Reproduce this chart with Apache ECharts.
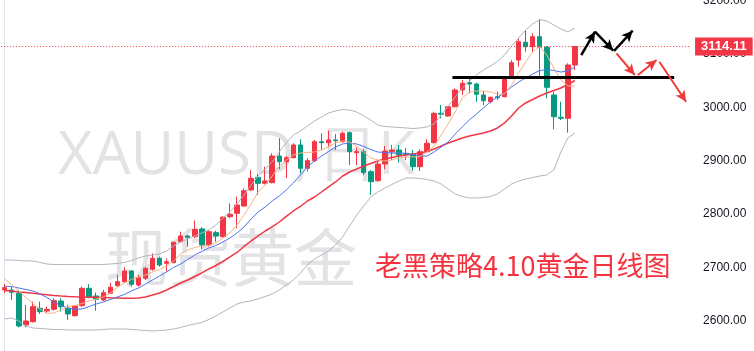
<!DOCTYPE html>
<html><head><meta charset="utf-8">
<script src="https://cdn.jsdelivr.net/npm/echarts@6/dist/echarts.min.js"></script>
<style>html,body{margin:0;padding:0;background:#fff}#c{width:754px;height:351px}</style>
</head><body><div id="c"></div>
<script>
// ---- data (XAUUSD daily) ----
const tradingDays = Array.from({length: 82}, (_, i) => 'D' + (i + 1));
const opens = [2657.3,2657.3,2651.1,2591.6,2597.8,2622.9,2617.9,2621.1,2636.6,2622.9,2609.1,2627.8,2660.4,2646.0,2638.5,2651.1,2665.3,2672.8,2692.9,2666.6,2679.2,2696.1,2716.7,2707.3,2708.5,2747.9,2758.6,2757.2,2771.7,2741.7,2764.8,2757.2,2794.8,2801.2,2814.8,2844.9,2868.7,2857.4,2858.6,2908.6,2897.9,2905.4,2929.3,2885.6,2899.8,2935.5,2933.6,2938.7,2935.5,2952.4,2914.8,2916.7,2879.2,2862.3,2893.6,2916.7,2919.9,2913.7,2912.4,2888.6,2916.7,2933.6,2988.7,2983.7,3001.1,3032.5,3046.2,3043.7,3023.1,3010.5,3019.9,3019.9,3057.4,3088.7,3121.9,3113.7,3132.5,3112.6,3023.1,2981.2,2979.4,3079.4];
const closes = [2661.6,2652.9,2589.7,2599.1,2625.9,2616.6,2621.1,2637.2,2625.9,2612.2,2627.3,2660.4,2643.6,2639.8,2652.2,2662.3,2672.8,2692.9,2667.9,2680.3,2697.9,2716.7,2704.2,2710.3,2746.8,2758.6,2756.1,2771.1,2741.7,2766.6,2758.6,2793.6,2799.3,2816.7,2843.5,2866.8,2857.4,2861.7,2908.6,2897.9,2905.4,2929.3,2885.6,2899.8,2935.5,2933.6,2938.7,2937.3,2951.2,2916.7,2916.7,2877.3,2860.4,2893.6,2918.0,2919.9,2910.5,2911.8,2888.6,2916.7,2932.5,2988.7,2986.9,3001.1,3032.5,3045.0,3043.7,3024.4,3012.4,3018.8,3018.0,3054.4,3083.7,3123.1,3113.7,3132.5,3112.6,3037.5,2982.4,2979.4,3079.4,3114.11];
const lows = [2651.6,2638.5,2587.3,2587.3,2595.9,2612.2,2614.7,2618.4,2616.6,2601.0,2607.2,2625.9,2641.7,2618.4,2636.6,2649.8,2663.5,2670.9,2663.5,2663.5,2676.0,2693.5,2700.9,2691.6,2707.3,2746.0,2738.5,2754.3,2733.6,2738.5,2747.9,2756.1,2791.8,2773.0,2813.5,2843.5,2835.5,2855.5,2857.4,2883.7,2866.8,2904.3,2876.2,2879.2,2897.9,2919.9,2925.0,2919.9,2933.6,2891.8,2891.8,2873.0,2835.5,2860.4,2883.7,2901.1,2896.1,2901.1,2881.1,2880.5,2914.3,2932.5,2979.4,2982.4,3000.0,3023.1,3026.3,3010.5,3004.3,3007.5,3013.7,3018.8,3055.5,3076.2,3104.3,3104.3,3054.4,3016.9,2958.7,2976.2,2952.4,3070.0];
const highs = [2668.5,2663.5,2657.3,2629.1,2635.3,2635.3,2625.9,2641.7,2641.7,2629.1,2629.1,2663.5,2668.5,2652.2,2657.3,2670.9,2685.4,2699.9,2694.8,2685.4,2700.9,2726.1,2719.7,2716.7,2747.9,2766.6,2760.4,2787.3,2774.9,2769.8,2768.5,2796.1,2819.9,2832.3,2848.0,2882.4,2874.9,2888.6,2913.7,2941.8,2908.6,2932.5,2940.0,2904.3,2938.7,2951.2,2956.1,2949.9,2954.2,2954.2,2925.0,2921.2,2882.4,2897.9,2927.4,2929.3,2929.3,2923.7,2919.9,2921.2,2940.0,2991.7,3004.3,3002.4,3035.6,3051.2,3054.4,3046.2,3030.6,3019.9,3029.3,3057.4,3088.7,3129.4,3145.0,3138.8,3165.1,3115.0,3029.3,3010.5,3082.5,3115.0];
const ma5 = [2677.9,2667.6,2655.4,2643.2,2631.9,2621.6,2613.2,2614.1,2619.7,2626.3,2628.2,2631.9,2636.6,2640.4,2644.2,2651.1,2662.0,2670.4,2677.0,2681.7,2685.4,2691.0,2695.7,2702.3,2711.7,2724.8,2732.3,2737.0,2739.8,2740.7,2745.4,2754.8,2764.2,2779.2,2798.0,2818.6,2841.1,2854.2,2871.1,2889.9,2901.1,2910.5,2914.3,2915.2,2916.1,2919.9,2926.5,2933.0,2936.8,2934.9,2927.4,2916.1,2904.9,2901.1,2899.3,2901.1,2904.9,2906.8,2906.8,2907.7,2916.1,2927.4,2948.0,2968.7,2991.2,3017.4,3028.7,3030.6,3030.6,3028.7,3025.0,3025.0,3041.8,3064.4,3085.0,3103.7,3114.1,3098.1,3073.7,3051.2,3040.0,3040.0];
const ma10 = [2664.2,2663.8,2661.0,2658.2,2655.4,2649.8,2643.2,2634.7,2628.2,2623.5,2620.7,2621.6,2626.3,2631.0,2634.7,2639.4,2644.2,2648.8,2655.4,2661.0,2668.5,2676.0,2683.5,2691.0,2699.5,2706.0,2714.5,2722.9,2729.5,2736.1,2740.7,2747.3,2754.8,2764.2,2775.5,2790.5,2803.6,2813.0,2824.2,2833.6,2844.9,2858.0,2873.0,2888.0,2899.3,2908.6,2917.1,2925.5,2931.2,2933.0,2931.2,2926.5,2920.8,2916.1,2915.2,2914.3,2914.3,2913.3,2911.5,2908.6,2908.6,2916.1,2925.5,2934.9,2949.9,2963.1,2976.2,2987.4,2998.7,3010.0,3019.3,3026.8,3038.1,3047.5,3055.0,3062.5,3069.0,3070.9,3069.0,3066.2,3068.1,3075.6];
const bbMid = [2656.3,2655.4,2653.5,2652.6,2651.1,2649.8,2648.5,2647.0,2646.0,2645.1,2644.5,2644.2,2643.8,2643.4,2643.0,2642.6,2642.3,2641.9,2641.7,2642.3,2644.2,2647.9,2651.6,2657.3,2663.8,2670.4,2676.0,2682.6,2689.2,2696.7,2703.2,2710.7,2719.2,2727.6,2738.9,2749.2,2758.6,2767.9,2775.5,2784.8,2795.2,2805.5,2813.9,2824.2,2831.7,2841.1,2850.5,2859.9,2871.1,2878.6,2884.3,2889.9,2894.6,2899.3,2903.0,2905.8,2908.6,2910.5,2912.4,2914.3,2917.1,2921.8,2927.4,2933.0,2937.7,2942.4,2946.2,2949.0,2951.8,2955.5,2961.2,2970.6,2983.7,2998.7,3008.1,3014.6,3021.2,3026.8,3031.5,3036.2,3042.8,3050.3];
const bbUpper = [2713.5,2713.5,2712.6,2711.7,2711.7,2708.9,2706.0,2705.1,2705.1,2705.1,2705.1,2705.1,2705.1,2705.1,2705.1,2706.0,2707.0,2708.9,2712.6,2717.3,2721.0,2722.9,2724.8,2730.4,2739.8,2747.3,2752.9,2758.6,2764.2,2769.8,2779.2,2792.3,2804.2,2818.6,2835.5,2854.2,2871.1,2884.3,2897.4,2916.1,2933.0,2948.0,2955.5,2964.9,2974.3,2981.8,2989.3,2993.1,2995.9,2994.9,2991.2,2983.7,2976.2,2966.8,2964.0,2963.1,2962.2,2961.2,2960.2,2961.2,2963.1,2968.7,2985.6,3002.4,3019.3,3036.2,3049.3,3060.6,3070.0,3077.5,3085.9,3098.1,3115.0,3130.0,3145.0,3156.3,3164.7,3161.9,3154.4,3146.9,3141.3,3148.8];
const bbLower = [2602.9,2604.7,2599.1,2589.7,2586.0,2585.1,2584.1,2583.2,2583.2,2582.2,2582.2,2582.2,2582.2,2582.2,2583.2,2584.1,2584.1,2584.1,2583.2,2582.2,2581.3,2580.3,2581.3,2582.2,2584.1,2586.9,2590.7,2593.5,2596.3,2601.9,2608.5,2616.0,2623.5,2631.0,2634.7,2636.6,2640.4,2645.1,2649.8,2657.3,2666.6,2676.0,2689.2,2704.2,2715.4,2722.9,2730.4,2741.7,2756.7,2777.3,2797.9,2814.8,2831.7,2841.1,2848.6,2855.2,2861.7,2867.4,2867.4,2866.4,2864.6,2861.7,2856.1,2846.7,2837.4,2832.7,2829.9,2829.9,2830.8,2832.7,2837.4,2846.7,2856.1,2861.7,2865.5,2868.3,2871.1,2873.0,2882.4,2916.1,2942.4,2951.8];
const lastPrice = 3114.11;
const resistanceLevel = 3057;
const resistanceSpan = [63.6, 95.1];           // bar index where the drawn level starts / ends
const blackArrows = [ [[81.9, 3098.1], [83.85, 3141.8]], [[83.85, 3141.8], [86.45, 3106.2]], [[86.55, 3105.6], [89.2, 3143.7]] ];
const redArrows = [ [[86.9, 3101.3], [89.5, 3060.6]], [[89.95, 3060.6], [92.6, 3088.7]], [[93.0, 3085.5], [96.8, 3010.5]] ];
const priceAxis = {min: 2500, max: 3300, step: 100};
const slotCount = 98;   // bars + empty space on the right

// ---- chart ----
const categories = Array.from({length: slotCount}, (_, i) => i < tradingDays.length ? tradingDays[i] : 'E' + i);
const ohlc = opens.map((o, i) => [o, closes[i], lows[i], highs[i]]);
const UP = '#f23645', DOWN = '#089981';

function seg(pair, color, width, arrow) {
  return [
    {coord: pair[0], symbol: 'none', lineStyle: {color: color, width: width, type: 'solid'}},
    {coord: pair[1], symbol: arrow ? 'arrow' : 'none', symbolSize: [8, 11], lineStyle: {color: color, width: width, type: 'solid'}}
  ];
}

const markData = [
  {yAxis: lastPrice, symbol: 'none',
   lineStyle: {color: UP, width: 1, type: [1, 2]},
   label: {show: true, position: 'end', distance: 4, formatter: lastPrice.toFixed(2), color: '#fff',
           backgroundColor: UP, padding: [3, 6, 2, 6], fontSize: 13, fontWeight: 'bold', fontFamily: 'Liberation Sans'}},
  seg([[resistanceSpan[0], resistanceLevel], [resistanceSpan[1], resistanceLevel]], '#000', 3, false)
];
blackArrows.forEach(a => markData.push(seg(a, '#000', 2.5, true)));
redArrows.forEach(a => markData.push(seg(a, '#f03a3a', 2, true)));

const lineSeries = (name, data, color, width) => ({
  name, type: 'line', data, symbol: 'none', silent: true, z: 3,
  lineStyle: {color, width}, xAxisIndex: 0, yAxisIndex: 0
});

const WM = '#e3e3e6';
const chart = echarts.init(document.getElementById('c'), null, {renderer: 'canvas'});
chart.setOption({
  animation: false,
  backgroundColor: '#ffffff',
  grid: {left: 1.18, top: -52.6, width: 689.9, height: 426.4, containLabel: false, outerBoundsMode: 'none'},
  xAxis: [
    {type: 'category', data: categories, boundaryGap: true, show: false},
    {type: 'value', min: -0.5, max: slotCount - 0.5, show: false}
  ],
  yAxis: {
    type: 'value', position: 'right', offset: 4,
    min: priceAxis.min, max: priceAxis.max, interval: priceAxis.step,
    axisLine: {show: true, lineStyle: {color: '#e0e3eb', width: 1}},
    axisTick: {show: false}, splitLine: {show: false},
    axisLabel: {margin: 8, color: '#131722', fontSize: 12, fontFamily: 'Liberation Sans',
                formatter: v => v.toFixed(2)}
  },
  graphic: [
    {type: 'text', x: 58, y: 157, z: -10, silent: true,
     style: {text: 'XAUUSD,', fontSize: 60, fontFamily: 'Open Sans', fill: WM, verticalAlign: 'middle'}},
    {type: 'text', x: 318, y: 157, z: -10, silent: true,
     style: {text: '日K', fontSize: 60, fontFamily: 'Open Sans', fill: WM, verticalAlign: 'middle'}},
    {type: 'text', x: 105, y: 257, z: -10, silent: true,
     style: {text: '现货黄金', fontSize: 63, fontFamily: 'Noto Sans CJK SC', fill: WM, verticalAlign: 'middle'}},
    {type: 'text', x: 375, y: 266, z: 50, silent: true,
     style: {text: '老黑策略4.10黄金日线图', fontSize: 27, fontFamily: 'Noto Sans CJK SC', fill: '#f5333f', verticalAlign: 'middle'}}
  ],
  series: [
    {type: 'candlestick', data: ohlc, barWidth: 5, z: 2,
     itemStyle: {color: UP, color0: DOWN, borderColor: UP, borderColor0: DOWN, borderWidth: 1}},
    lineSeries('upper', bbUpper, '#b2b5be', 1),
    lineSeries('lower', bbLower, '#b2b5be', 1),
    lineSeries('mid', bbMid, '#f23645', 1.5),
    lineSeries('ma10', ma10, '#4d74f0', 1),
    lineSeries('ma5', ma5, '#f7b385', 1),
    {type: 'line', xAxisIndex: 1, yAxisIndex: 0, data: [], symbol: 'none', silent: true, z: 5,
     markLine: {silent: true, symbol: ['none', 'none'], animation: false, label: {show: false}, data: markData}}
  ]
});
</script></body></html>
